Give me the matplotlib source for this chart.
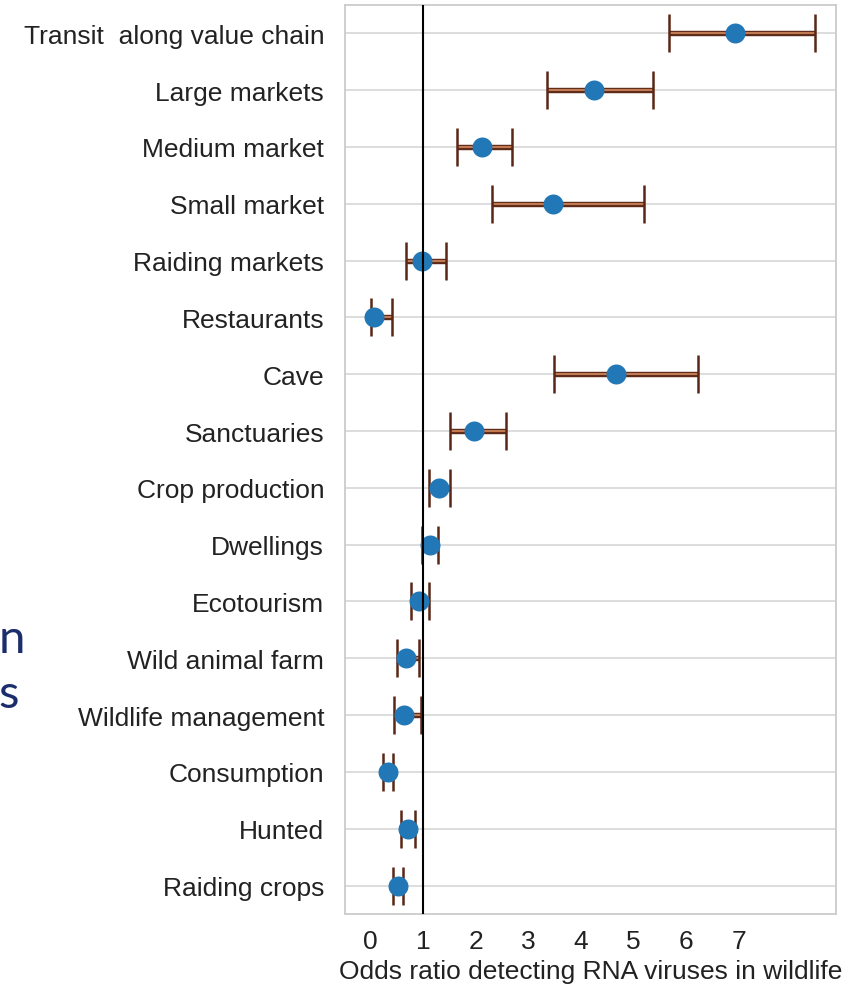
import numpy as np
import matplotlib
matplotlib.use('Agg')
import matplotlib.pyplot as plt
import matplotlib.patheffects as pe

plt.rcParams['font.family'] = ['Liberation Sans', 'DejaVu Sans']

# Odds ratios with lower / upper confidence limits, top row first
categories = ['Transit  along value chain', 'Large markets', 'Medium market', 'Small market',
              'Raiding markets', 'Restaurants', 'Cave', 'Sanctuaries', 'Crop production',
              'Dwellings', 'Ecotourism', 'Wild animal farm', 'Wildlife management',
              'Consumption', 'Hunted', 'Raiding crops']
odds = [6.93, 4.25, 2.11, 3.46, 0.98, 0.06, 4.66, 1.97, 1.30,
        1.13, 0.91, 0.67, 0.64, 0.32, 0.70, 0.51]
ci_low = [5.68, 3.35, 1.65, 2.31, 0.67, 0.01, 3.48, 1.51, 1.11,
          0.98, 0.76, 0.49, 0.44, 0.24, 0.58, 0.42]
ci_high = [8.45, 5.37, 2.69, 5.19, 1.44, 0.41, 6.23, 2.57, 1.50,
           1.27, 1.10, 0.91, 0.96, 0.42, 0.84, 0.62]
xticks = [0, 1, 2, 3, 4, 5, 6, 7]

odds = np.array(odds); lo = np.array(ci_low); hi = np.array(ci_high)
y = np.arange(len(categories))

fig = plt.figure(figsize=(8.64, 9.87), dpi=100)
ax = fig.add_axes([0.3993, 0.073, 0.5683, 0.921])

for yy in y:
    ax.axhline(yy, color='#d3d3d3', lw=1.1, zorder=0)

eb = ax.errorbar(odds, y, xerr=[odds - lo, hi - odds], fmt='none',
                 ecolor='#c27a52', elinewidth=1.5, capsize=13.7, capthick=1.8, zorder=2)
for cl in eb[1]:
    cl.set_markeredgecolor('#5a2716')
for bl in eb[2]:
    bl.set_path_effects([pe.Stroke(linewidth=3.9, foreground='#5e2a18'), pe.Normal()])

ax.plot(odds, y, 'o', color='#2277b6', ms=14.4, mec='none', zorder=3)
ax.axvline(1, color='black', lw=1.5, zorder=4)

ax.set_xlim(-0.49, 8.85)
ax.set_ylim(15.5, -0.5)
ax.set_yticks(y)
ax.set_yticklabels(categories, fontsize=19, color='#222222')
ax.set_xticks(xticks)
ax.set_xticklabels([str(t) for t in xticks], fontsize=19, color='#222222')
ax.tick_params(length=0, pad=11)
ax.tick_params(axis='y', pad=15)
ax.set_xlabel('Odds ratio detecting RNA viruses in wildlife', fontsize=19,
              color='#222222', labelpad=4)
for sp in ax.spines.values():
    sp.set_color('#cccccc')
    sp.set_linewidth(1.3)

# fragments of slide text at the left edge
fig.text(-0.002, 1 - 653 / 987, 'n', fontsize=34, color='#1c2d6b', ha='left', va='baseline',
         family='Lato')
fig.text(-0.002, 1 - 708 / 987, 's', fontsize=34, color='#1c2d6b', ha='left', va='baseline',
         family='Lato')

fig.savefig('out.png', dpi=100, facecolor='white')
